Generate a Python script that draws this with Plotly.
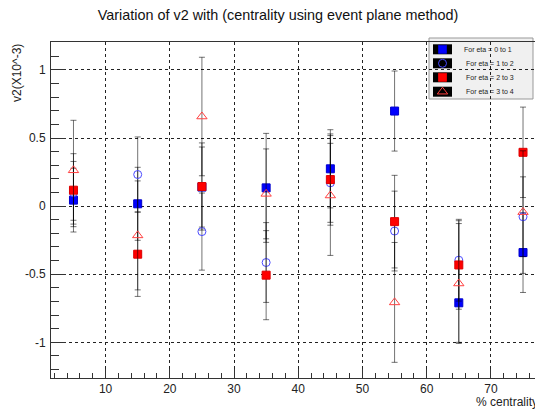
import plotly.graph_objects as go

centrality = [5, 15, 25, 35, 45, 55, 65, 75]

v2_eta01 = [0.044, 0.017, 0.14, 0.134, 0.274, 0.698, -0.71, -0.341]
err_eta01 = [0.234, 0.268, 0.294, 0.40, 0.287, 0.294, 0.29, 0.293]

v2_eta12 = [0.098, 0.232, -0.187, -0.414, 0.171, -0.183, -0.397, -0.078]
err_eta12 = [0.23, 0.276, 0.283, 0.293, 0.29, 0.293, 0.30, 0.293]

v2_eta23 = [0.117, -0.353, 0.144, -0.507, 0.195, -0.114, -0.432, 0.395]
err_eta23 = [0.268, 0.31, 0.32, 0.327, 0.335, 0.34, 0.325, 0.332]

v2_eta34 = [0.263, -0.215, 0.658, 0.09, 0.078, -0.707, -0.568, -0.044]
err_eta34 = [0.367, 0.40, 0.435, 0.33, 0.44, 0.44, 0.44, 0.45]

legend_labels = ["For eta = 0 to 1", "For eta = 1 to 2", "For eta = 2 to 3", "For eta = 3 to 4"]

series = [
    (v2_eta01, err_eta01, dict(symbol="square", color="#0000ff", size=8, line=dict(color="#0000cc", width=1))),
    (v2_eta12, err_eta12, dict(symbol="circle-open", color="#4a4aff", size=8, line=dict(color="#4a4aff", width=1))),
    (v2_eta23, err_eta23, dict(symbol="square", color="#ff0000", size=8, line=dict(color="#dd0000", width=1))),
    (v2_eta34, err_eta34, dict(symbol="triangle-up-open", color="#ff4040", size=9, line=dict(color="#ff4040", width=1))),
]

# page offset (browser body margin)
OFF = 8
W, H = 543 - OFF, 412 - OFF
# plot area in page pixels
PL, PR, PT, PB = 51, 541, 42, 378
L, R, T, B = PL - OFF, PR - OFF, PT - OFF, PB - OFF

def px(X):
    return (X - OFF - L) / (R - L)

def py(Y):
    return (B - (Y - OFF)) / (B - T)

fig = go.Figure()
for (y, e, m), name in zip(series, legend_labels):
    fig.add_trace(go.Scatter(
        x=centrality, y=y, mode="markers", name=name, marker=m, showlegend=False,
        error_y=dict(type="data", array=e, visible=True, color="rgba(0,0,0,0.55)", thickness=1, width=3),
        cliponaxis=False,
    ))

shapes = []
annotations = []
shapes.append(dict(type="rect", xref="paper", yref="paper", x0=px(429), x1=px(533), y0=py(99), y1=py(38),
                   fillcolor="#f0f0f0", line=dict(color="#999999", width=1), layer="between"))
rows_y = [49.3, 63.3, 77.3, 91.7]
for i, ((y, e, m), name) in enumerate(zip(series, legend_labels)):
    yc = rows_y[i]
    shapes.append(dict(type="rect", xref="paper", yref="paper", x0=px(433), x1=px(452),
                       y0=py(yc + 5), y1=py(yc - 5), fillcolor="#000000", line=dict(width=0), layer="between"))
    annotations.append(dict(xref="paper", yref="paper", x=px(462 if i == 0 else 464), y=py(yc), text=name, showarrow=False,
                            xanchor="left", yanchor="middle",
                            font=dict(size=7, color="#222222", family="Liberation Sans, Arial")))
    fig.add_trace(go.Scatter(x=[px(442.5)], y=[py(yc)], xaxis="x2", yaxis="y2", mode="markers",
                             marker=dict(m), showlegend=False, hoverinfo="skip", cliponaxis=False))

fig.update_layout(
    width=W, height=H,
    margin=dict(l=L, r=W - R, t=T, b=H - B, autoexpand=False),
    paper_bgcolor="white", plot_bgcolor="white",
    font=dict(family="Liberation Sans, Arial", color="#222222"),
    title=dict(text="Variation of v2 with (centrality using event plane method)", x=px(278), xanchor="center",
               xref="paper", y=1 - (10.5 - OFF + 4) / H, yanchor="middle", font=dict(size=14.4, color="#111111")),
    xaxis=dict(range=[1.5, 77.8], tickmode="array", tickvals=[10, 20, 30, 40, 50, 60, 70],
               ticks="inside", ticklen=9, tickcolor="#333333", showline=True, linecolor="#333333", linewidth=1,
               mirror=True, showgrid=True, gridcolor="#222222", griddash="dot", gridwidth=1, zeroline=False,
               tickfont=dict(size=12, color="#222222"),
               minor=dict(tickmode="linear", tick0=0, dtick=2, ticks="inside", ticklen=5, tickcolor="#333333", showgrid=False)),
    yaxis=dict(range=[-1.262, 1.205], tickmode="array", tickvals=[-1, -0.5, 0, 0.5, 1], ticktext=["-1", "-0.5", "0", "0.5", "1"],
               ticks="inside", ticklen=15, tickcolor="#333333", showline=True, linecolor="#333333", linewidth=1,
               mirror=True, showgrid=True, gridcolor="#222222", griddash="dot", gridwidth=1, zeroline=False,
               tickfont=dict(size=12, color="#222222"), ticklabelstandoff=2,
               minor=dict(tickmode="linear", tick0=0, dtick=0.1, ticks="inside", ticklen=8, tickcolor="#333333", showgrid=False)),
    xaxis2=dict(range=[0, 1], overlaying="x", visible=False, fixedrange=True),
    yaxis2=dict(range=[0, 1], overlaying="y", visible=False, fixedrange=True),
    shapes=shapes,
    annotations=annotations + [
        dict(xref="paper", yref="paper", x=px(540), y=py(402), text="% centrality", showarrow=False,
             xanchor="right", yanchor="middle", font=dict(size=12, color="#222222")),
        dict(xref="paper", yref="paper", x=px(17), y=py(73), text="v2(X10^-3)", showarrow=False, textangle=-90,
             xanchor="center", yanchor="middle", font=dict(size=12, color="#222222")),
    ],
)

fig.write_html("out.html")
